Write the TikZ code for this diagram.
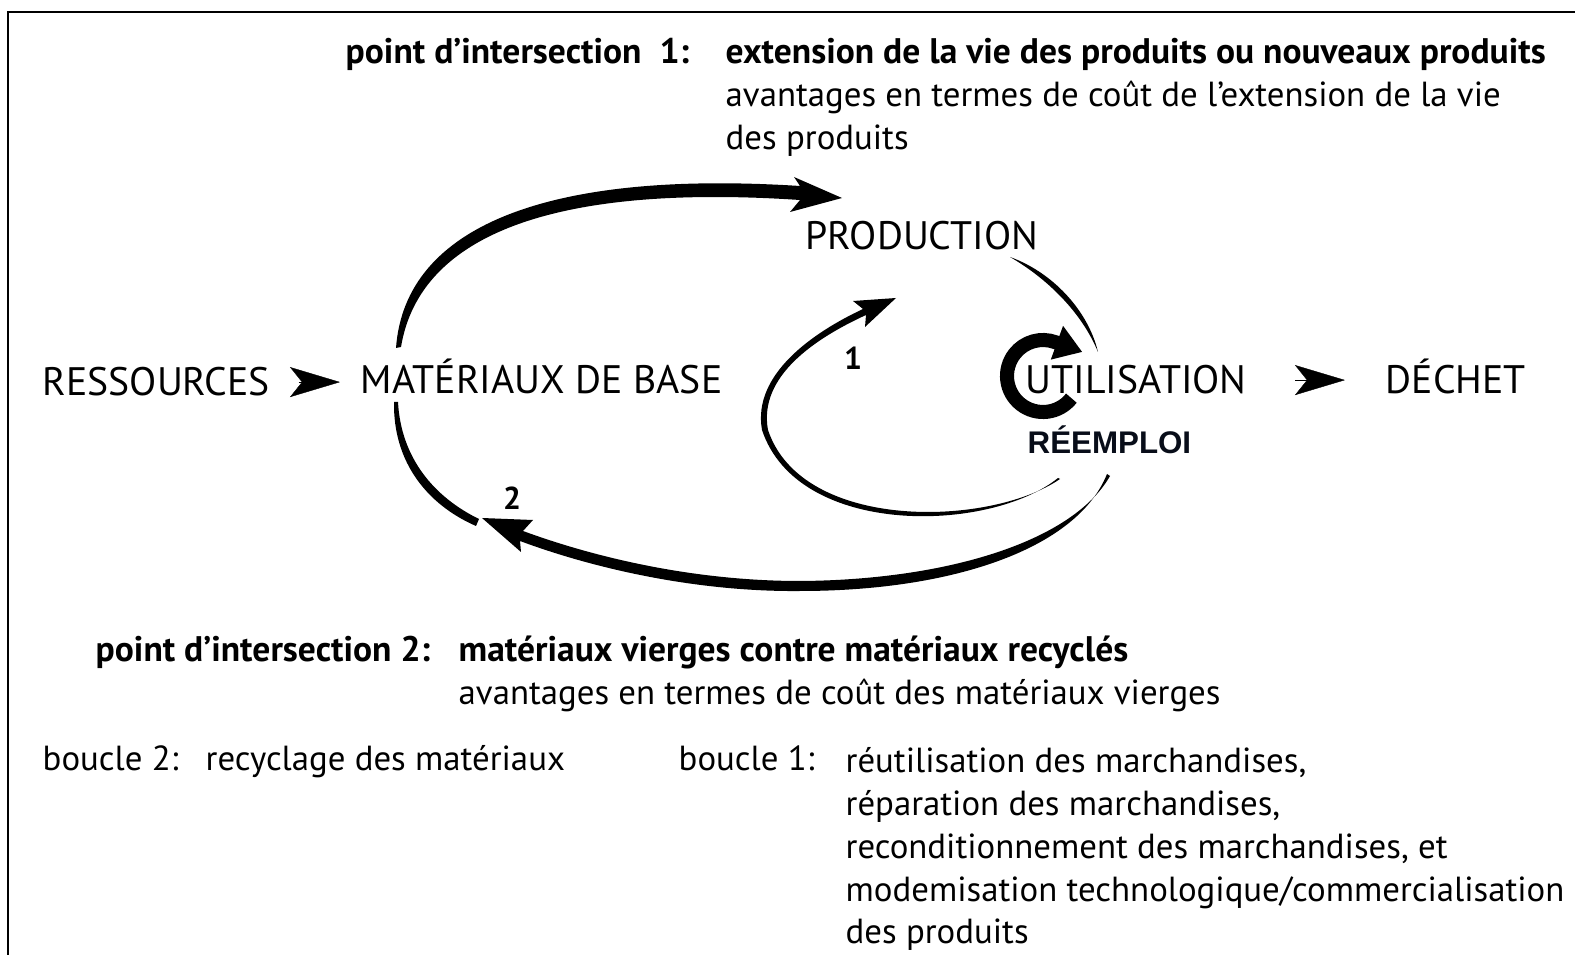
\documentclass[tikz,border=0pt]{standalone}
\usepackage{fontspec}
\setmainfont{PT Sans}
\newfontfamily\arialfont{Liberation Sans}
\usetikzlibrary{arrows.meta}
\definecolor{reuse}{rgb}{0.03, 0.05, 0.1}

\begin{document}
\begin{tikzpicture}[x=0.01cm, y=-0.01cm,
  stage/.style={inner sep=0pt, anchor=base west, font=\fontsize{11.3}{12}\selectfont},
  note/.style={inner sep=0pt, anchor=base west, font=\fontsize{9.9}{12}\selectfont},
  notebold/.style={inner sep=0pt, anchor=base west, font=\fontsize{10.1}{12}\selectfont\bfseries},
  loopnum/.style={inner sep=0pt, font=\fontsize{9}{10}\selectfont\bfseries},
  dart/.style={line width=0.1pt, -{Stealth[length=0.5cm, width=0.3cm, inset=0.12cm]}}]
\useasboundingbox (0, 0) rectangle (1575, 955);
\draw[line width=0.8pt] (8, 980) |- (1600, 12);

\node[notebold] (pi1) at (345, 64) {point d'intersection\ \ 1:};
\node[notebold] (pi1title) at (725, 64) {extension de la vie des produits ou nouveaux produits};
\node[note] (pi1line1) at (725, 107) {avantages en termes de coût de l'extension de la vie};
\node[note] (pi1line2) at (725, 150) {des produits};

\node[stage] (prod) at (805, 250) {PRODUCTION};
\node[stage] (res) at (42, 396) {RESSOURCES};
\node[stage] (mat) at (360, 394) {MATÉRIAUX DE BASE};
\node[stage] (util) at (1025, 394) {UTILISATION};
\node[stage] (dechet) at (1385, 394) {DÉCHET};
\node[inner sep=0pt, anchor=base west, text=reuse, font=\arialfont\fontsize{8.9}{10}\selectfont\bfseries] (reemploi) at (1027, 454) {RÉEMPLOI};
\node[loopnum] (one) at (853, 358) {1};
\node[loopnum] (two) at (512, 498) {2};

\draw[dart, shorten <=0.28cm, shorten >=0.2cm] (res.east) -- (res.east -| mat.west);
\draw[dart, shorten <=0.48cm, shorten >=0.4cm] (util.east) -- (util.east -| dechet.west);

\coordinate (matN) at (396, 348);
\coordinate (prodW) at (842, 198);
\fill (matN) .. controls (405, 225) and (550, 170) .. (800, 186)
  -- (794, 177) -- (prodW) -- (790, 212) -- (800, 200)
  .. controls (560, 184) and (420, 232) .. (401, 347) -- cycle;

\coordinate (prodSE) at (1010, 257);
\coordinate (utilN) at (1098, 352);
\fill (prodSE) .. controls (1052, 272) and (1088, 310) .. (utilN)
  .. controls (1082, 313) and (1048, 279) .. (prodSE) -- cycle;

\coordinate (utilSW) at (1058, 478);
\coordinate (prodS) at (896, 298);
\fill (utilSW) .. controls (990, 533) and (798, 538) .. (762, 430)
  .. controls (752, 374) and (814, 332) .. (863, 309)
  -- (853, 301) -- (prodS) -- (865, 327) -- (866, 315)
  .. controls (816, 338) and (758, 376) .. (768, 430)
  .. controls (802, 532) and (990, 527) .. (1060, 479) -- cycle;

\coordinate (utilS) at (1107, 474);
\coordinate (matS) at (482, 518);
\fill (utilS) .. controls (1077, 549) and (952, 591) .. (800, 591)
  .. controls (700, 592) and (598, 570) .. (520, 541)
  -- (521, 552) -- (matS) -- (533, 520) -- (523, 531)
  .. controls (602, 560) and (700, 581) .. (800, 581)
  .. controls (948, 580) and (1073, 541) .. (1110, 476) -- cycle;

\coordinate (matSW) at (394, 402);
\fill (matSW) .. controls (393, 463) and (428, 505) .. (476, 526)
  -- (479, 519) .. controls (434, 497) and (401, 458) .. (398, 402) -- cycle;

\coordinate (cyc) at (1043, 376);
\draw[line width=4pt, -{Triangle[length=0.27cm, width=0.34cm]}]
  ([shift={(38:36)}]cyc) arc[start angle=38, end angle=290, radius=36] -- ++(27, 9.8);

\node[notebold] (pi2) at (95, 662) {point d'intersection 2:};
\node[notebold] (pi2title) at (458, 662) {matériaux vierges contre matériaux recyclés};
\node[note] (pi2line1) at (458, 705) {avantages en termes de coût des matériaux vierges};

\node[note] (b2) at (42, 771) {boucle 2:};
\node[note] (b2text) at (205, 771) {recyclage des matériaux};
\node[note] (b1) at (678, 771) {boucle 1:};
\node[note] (b1line1) at (845, 772) {réutilisation des marchandises,};
\node[note] (b1line2) at (845, 815) {réparation des marchandises,};
\node[note] (b1line3) at (845, 858) {reconditionnement des marchandises, et};
\node[note] (b1line4) at (845, 901) {modemisation technologique/commercialisation};
\node[note] (b1line5) at (845, 943) {des produits};
\end{tikzpicture}
\end{document}
